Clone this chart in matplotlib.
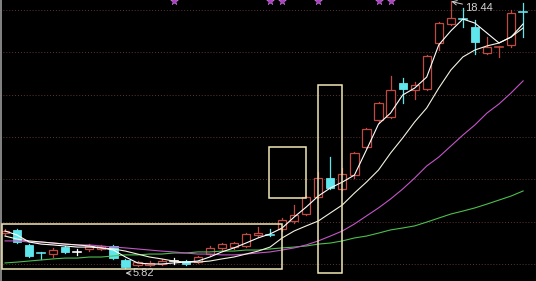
import numpy as np
import pandas as pd
import matplotlib
matplotlib.use('Agg')
import matplotlib.pyplot as plt
from matplotlib.patches import Rectangle

# daily candles
opens = [7.46, 7.61, 6.90, 6.54, 6.47, 6.80, 6.55, 6.71, 6.71, 6.85,
         6.19, 5.95, 5.95, 6.00, 6.13, 6.14, 6.09, 6.47, 6.76, 6.80,
         6.85, 7.37, 7.44, 7.65, 8.01, 8.36, 9.17, 10.06, 9.54, 10.20,
         11.53, 12.80, 12.94, 14.55, 14.22, 14.27, 16.44, 17.34, 17.60, 17.20,
         15.97, 16.25, 16.35, 17.93]
highs = [7.65, 7.65, 6.94, 6.57, 6.76, 6.85, 6.71, 6.94, 6.90, 6.90,
         6.24, 6.14, 6.14, 6.24, 6.28, 6.19, 6.38, 6.85, 6.99, 7.06,
         7.46, 7.75, 7.65, 8.17, 8.79, 9.21, 10.35, 11.05, 10.54, 11.29,
         12.42, 13.65, 14.88, 14.79, 14.60, 15.87, 17.43, 18.44, 18.09, 17.53,
         16.72, 16.29, 18.00, 18.33]
lows = [7.37, 6.99, 6.33, 6.24, 6.33, 6.52, 6.43, 6.61, 6.66, 6.24,
        5.82, 5.91, 5.91, 5.95, 6.00, 5.95, 6.05, 6.43, 6.66, 6.71,
        6.80, 7.28, 7.32, 7.56, 7.94, 8.31, 9.12, 9.54, 9.50, 10.06,
        11.48, 12.66, 12.90, 13.61, 13.79, 14.22, 16.11, 17.29, 17.20, 15.92,
        15.92, 15.78, 16.25, 16.72]
closes = [7.56, 7.04, 6.38, 6.50, 6.66, 6.57, 6.55, 6.85, 6.83, 6.28,
          5.86, 6.09, 6.07, 6.14, 6.13, 6.00, 6.33, 6.76, 6.94, 6.99,
          7.42, 7.46, 7.39, 8.08, 8.31, 9.17, 10.06, 9.59, 10.25, 11.24,
          12.38, 13.61, 14.22, 14.27, 14.46, 15.83, 17.38, 17.62, 17.55, 16.49,
          16.25, 16.27, 17.86, 17.88]

# moving averages as drawn
ma5 = [7.56, 7.37, 7.04, 6.94, 6.90, 6.85, 6.80, 6.80, 6.76, 6.66,
       6.33, 6.05, 6.00, 6.00, 6.05, 6.09, 6.14, 6.33, 6.57, 6.76,
       6.99, 7.23, 7.42, 7.70, 8.22, 8.69, 9.21, 9.59, 9.87, 10.20,
       11.39, 12.61, 13.13, 13.98, 14.31, 14.83, 16.35, 17.01, 17.57, 17.38,
       16.91, 16.44, 16.72, 17.34]
ma10 = [7.32, 7.18, 7.09, 7.04, 6.99, 6.94, 6.90, 6.85, 6.76, 6.71,
        6.61, 6.47, 6.33, 6.24, 6.14, 6.09, 6.09, 6.14, 6.24, 6.33,
        6.47, 6.61, 6.80, 7.23, 7.56, 7.80, 8.03, 8.41, 8.79, 9.35,
        9.87, 10.44, 11.24, 11.95, 12.71, 13.37, 14.31, 15.16, 15.78, 16.11,
        16.30, 16.44, 16.72, 17.15]
ma20 = [7.09, 7.09, 7.04, 7.04, 6.99, 6.94, 6.90, 6.90, 6.85, 6.80,
        6.76, 6.71, 6.66, 6.61, 6.57, 6.52, 6.47, 6.47, 6.43, 6.43,
        6.47, 6.52, 6.57, 6.66, 6.76, 6.90, 7.09, 7.32, 7.56, 7.89,
        8.27, 8.65, 9.07, 9.54, 10.06, 10.63, 11.05, 11.57, 12.09, 12.57,
        13.13, 13.56, 14.08, 14.65]
ma60 = [6.05, 6.09, 6.14, 6.19, 6.24, 6.28, 6.28, 6.33, 6.33, 6.38,
        6.43, 6.43, 6.47, 6.47, 6.52, 6.52, 6.57, 6.57, 6.61, 6.61,
        6.66, 6.66, 6.71, 6.76, 6.80, 6.85, 6.94, 6.99, 7.09, 7.23,
        7.32, 7.46, 7.61, 7.70, 7.80, 7.98, 8.17, 8.36, 8.50, 8.65,
        8.83, 9.02, 9.21, 9.45]

grid_prices = [6, 8, 10, 12, 14, 16, 18]
star_idx = [14, 22, 23, 26, 31, 32]

df = pd.DataFrame({'open': opens, 'high': highs, 'low': lows, 'close': closes})
x = np.arange(len(df))

RED = '#bf4a43'
CYAN = '#5ee6ec'
BOX = '#efe6b2'

fig = plt.figure(figsize=(5.36, 2.81), dpi=100)
fig.patch.set_facecolor('black')
ax = fig.add_axes([0, 0, 1, 1])
ax.set_facecolor('black')
ax.set_xlim(-0.415, 44.07)
ax.set_ylim(5.197, 18.47)
ax.axis('off')

for p in grid_prices:
    ax.axhline(p, color='#5e3434', lw=0.7, ls=(0, (1, 2)), zorder=1)
ax.axvline(-0.33, color='#9a9a9a', lw=1.2, zorder=1)

w = 0.68
for i, r in df.iterrows():
    o, h, l, c = r['open'], r['high'], r['low'], r['close']
    top, bot = max(o, c), min(o, c)
    if abs(c - o) < 0.06:
        col = RED if c > o else (CYAN if c < o else 'white')
        ax.plot([i, i], [l, h], color=col, lw=0.9, zorder=3)
        ax.plot([i - w / 2, i + w / 2], [c, c], color=col, lw=1.2, zorder=3)
        continue
    if c > o:
        ax.plot([i, i], [top, h], color=RED, lw=0.9, zorder=3)
        ax.plot([i, i], [l, bot], color=RED, lw=0.9, zorder=3)
        ax.add_patch(Rectangle((i - w / 2, bot), w, top - bot, facecolor='black',
                               edgecolor=RED, lw=0.9, zorder=3))
    else:
        ax.plot([i, i], [l, h], color=CYAN, lw=0.9, zorder=3)
        ax.add_patch(Rectangle((i - w / 2, bot), w, top - bot, facecolor=CYAN,
                               edgecolor=CYAN, lw=0.6, zorder=3))

ax.plot(x, ma60, color='#4cbf4c', lw=0.8, zorder=4)
ax.plot(x, ma20, color='#c455c8', lw=0.8, zorder=4)
ax.plot(x, ma10, color='#f4f2de', lw=0.8, zorder=4)
ax.plot(x, ma5, color='white', lw=0.8, zorder=4)

# highlight boxes
for (x0, x1, y0, y1) in [(-0.25, 22.99, 5.76, 7.89), (21.9, 24.98, 9.12, 11.53),
                         (25.98, 27.97, 5.57, 14.46)]:
    ax.add_patch(Rectangle((x0, y0), x1 - x0, y1 - y0, fill=False,
                           edgecolor=BOX, lw=1.1, zorder=5))

ax.scatter(star_idx, [18.44] * len(star_idx), marker='*', s=32,
           color='#a540bf', edgecolors='#d070e0', linewidths=0.4, zorder=5)

ax.annotate('18.44', xy=(37.05, 18.40), xytext=(38.2, 18.09),
            color='#d2d2d2', fontsize=8, family='Liberation Sans',
            va='center', ha='left',
            arrowprops=dict(arrowstyle='->', color='#d2d2d2', lw=0.7,
                            shrinkA=0, shrinkB=0), zorder=6)
ax.annotate('5.82', xy=(10.0, 5.57), xytext=(10.6, 5.57),
            color='#d2d2d2', fontsize=8, family='Liberation Sans',
            va='center', ha='left',
            arrowprops=dict(arrowstyle='->', color='#d2d2d2', lw=0.7,
                            shrinkA=0, shrinkB=0), zorder=6)

fig.savefig('out.png', dpi=100, facecolor='black')
